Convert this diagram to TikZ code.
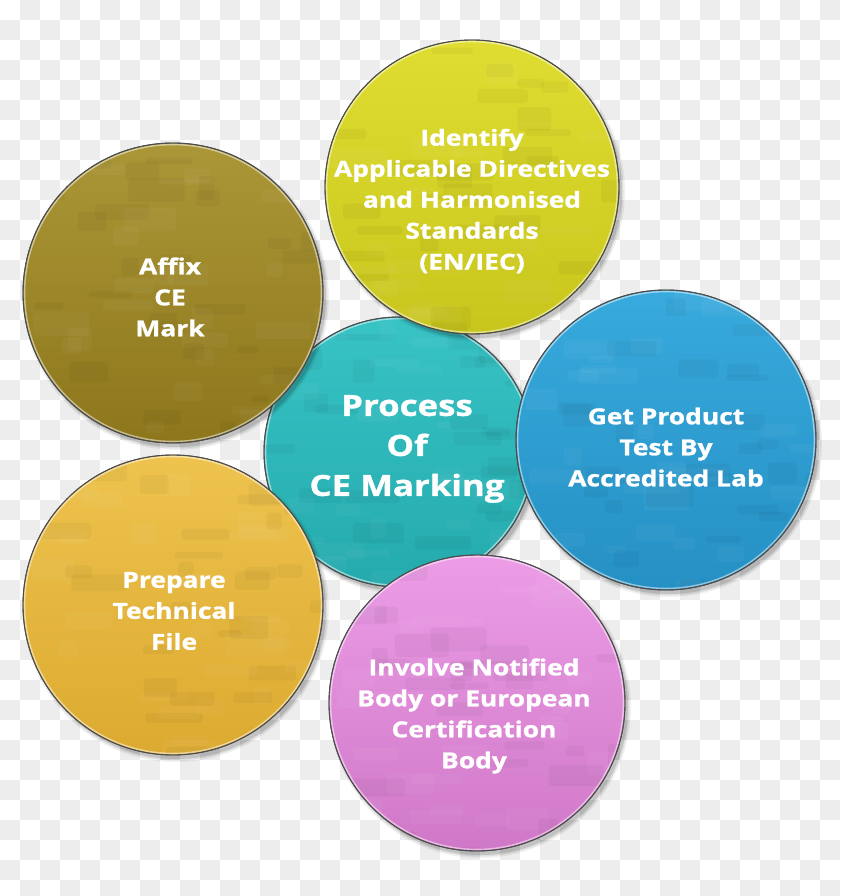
\documentclass[tikz,border=0pt]{standalone}
\usepackage{fontspec}
\newfontfamily\lblfont{Open Sans}[FakeStretch=1.2,FakeBold=1.2]
\definecolor{chk}{HTML}{EDEDED}
\definecolor{oliveT}{HTML}{AB9737}\definecolor{oliveB}{HTML}{8D761C}
\definecolor{yelT}{HTML}{E0DD32}\definecolor{yelB}{HTML}{C8C51C}
\definecolor{tealT}{HTML}{38C3C5}\definecolor{tealB}{HTML}{24AAAD}
\definecolor{blueT}{HTML}{38AADD}\definecolor{blueB}{HTML}{2590C4}
\definecolor{goldT}{HTML}{EEC34E}\definecolor{goldB}{HTML}{DCAA30}
\definecolor{pinkT}{HTML}{EC9DE6}\definecolor{pinkB}{HTML}{D078C8}
\tikzset{
  bub/.style={circle, inner sep=0pt, minimum size=#1, draw=black!70, line width=0.9pt},
  lblsmall/.style={font=\lblfont\bfseries\fontsize{22}{31}\selectfont},
  lblbig/.style={font=\lblfont\bfseries\fontsize{29}{40}\selectfont},
  lbl/.style={text=white, align=center, inner sep=0pt},
}
\newcommand\Bub[6]{%
  \fill[black, opacity=0.05] (#2+3,#3+4) circle (#4+3);
  \fill[black, opacity=0.08] (#2+3,#3+4) circle (#4+1.5);
  \fill[black, opacity=0.12] (#2+3,#3+4) circle (#4);
  \node[bub={2*#4pt}, top color=#5, bottom color=#6] (#1) at (#2,#3) {};
  \begin{scope}
    \clip (#1.center) circle (#4);
    \foreach \n in {1,...,60}{%
      \pgfmathsetmacro\px{#2+rand*#4}%
      \pgfmathsetmacro\py{#3+rand*#4}%
      \pgfmathsetmacro\w{15+rnd*45}%
      \pgfmathsetmacro\h{6+rnd*18}%
      \pgfmathtruncatemacro\c{mod(\n,2)}%
      \ifnum\c=0 \def\tc{white}\else\def\tc{black}\fi
      \fill[\tc, opacity=0.035, rounded corners=3pt] (\px,\py) rectangle ++(\w,\h);
    }
  \end{scope}
  \draw[white, opacity=0.5, line width=1.4pt] (#1.center) circle (#4-1.6);
  \draw[black!70, line width=0.9pt] (#1.center) circle (#4);
}
\newcommand\Lbl[5]{%
  \node[lbl,#4] (#1) at (#2,#3) {#5};
}
\begin{document}
\begin{tikzpicture}[x=1pt,y=-1pt]
\useasboundingbox (0,0) rectangle (840,896);
\fill[white] (0,0) rectangle (840,896);
\foreach \j in {0,...,44}{%
  \pgfmathtruncatemacro\st{mod(\j+1,2)}%
  \foreach \k in {0,...,20}{%
    \pgfmathtruncatemacro\i{2*\k+\st}%
    \fill[chk] (20*\i,20*\j) rectangle ++(20,20);
  }
}
\pgfmathsetseed{11}
\Bub{teal}{399}{452}{135}{tealT}{tealB}
\Bub{olive}{173}{293}{150}{oliveT}{oliveB}
\Bub{yellow}{472}{187}{147}{yelT}{yelB}
\Bub{blue}{666}{440}{150}{blueT}{blueB}
\Bub{gold}{173}{605}{150}{goldT}{goldB}
\Bub{pink}{477}{703}{148}{pinkT}{pinkB}

\Lbl{tyellow}{472}{201}{lblsmall}{Identify\\Applicable Directives\\and Harmonised\\Standards\\(EN/IEC)}
\Lbl{tolive}{170}{297}{lblsmall}{Affix\\CE\\Mark}
\Lbl{tteal}{407}{449}{lblbig}{Process\\Of\\CE Marking}
\Lbl{tblue}{666}{447}{lblsmall}{Get Product\\Test By\\Accredited Lab}
\Lbl{tgold}{174}{611}{lblsmall}{Prepare\\Technical\\File}
\Lbl{tpink}{474}{716}{lblsmall}{Involve Notified\\Body or European\\Certification\\Body}
\end{tikzpicture}
\end{document}
